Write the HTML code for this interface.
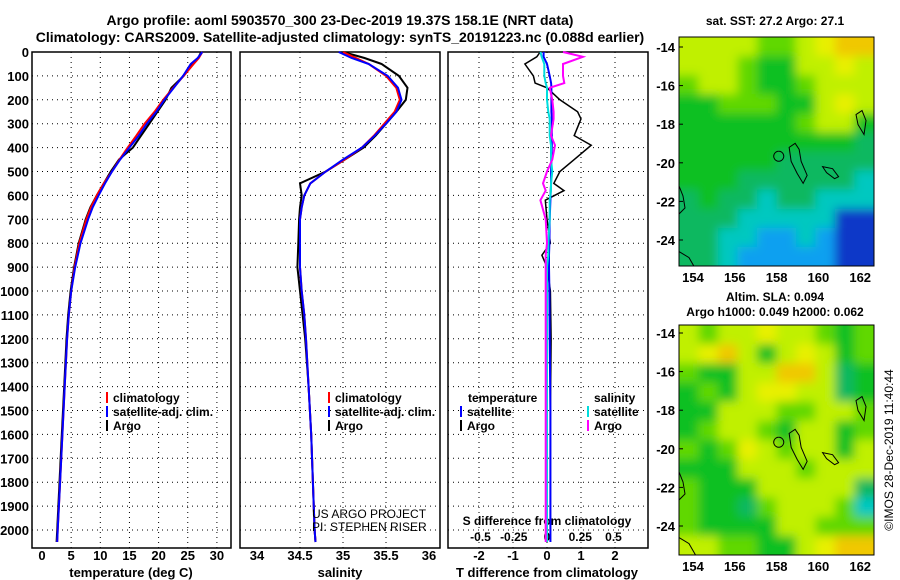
<!DOCTYPE html>
<html><head><meta charset="utf-8"><style>
body{margin:0;background:#fff;}
svg{display:block;font-family:"Liberation Sans",sans-serif;font-weight:bold;}
</style></head><body>
<svg id="c" width="900" height="580" viewBox="0 0 900 580" xmlns="http://www.w3.org/2000/svg">
<defs>
<filter id="blur" x="-10%" y="-10%" width="120%" height="120%"><feGaussianBlur stdDeviation="5"/></filter>
<clipPath id="clip1"><rect x="679" y="37" width="195" height="229"/></clipPath>
<clipPath id="clip2"><rect x="679" y="325" width="195" height="230"/></clipPath>
</defs>
<text x="340" y="25" font-size="14" text-anchor="middle">Argo profile: aoml 5903570_300 23-Dec-2019 19.37S 158.1E (NRT data)</text>
<text x="340" y="42" font-size="14" text-anchor="middle">Climatology: CARS2009. Satellite-adjusted climatology: synTS_20191223.nc (0.088d earlier)</text>
<g id="g"></g>
</svg>
<script>
const depths=[0,25,50,100,150,200,250,300,350,400,450,500,550,600,650,700,800,900,1000,1100,1200,1400,1600,1800,2000,2050];
const tempArgo=[27.3,26.8,25.8,24.3,22.2,21.2,19.8,18.4,17.0,15.6,13.2,11.8,10.6,9.4,8.3,7.5,6.3,5.5,4.9,4.5,4.2,3.8,3.4,3.0,2.6,2.5];
const tempClim=[27.5,26.9,26.0,24.3,22.5,20.8,19.3,17.6,16.2,14.7,13.3,12.0,10.6,9.4,8.4,7.6,6.4,5.6,5.0,4.6,4.3,3.9,3.5,3.1,2.7,2.6];
const tempSat=[27.5,26.7,25.5,24.2,22.6,21.0,19.6,18.0,16.6,15.0,13.4,12.0,10.8,9.7,8.7,7.9,6.6,5.7,5.0,4.6,4.3,3.9,3.5,3.1,2.7,2.6];
const salArgo=[35.0,35.25,35.45,35.65,35.75,35.73,35.62,35.5,35.38,35.24,35.02,34.8,34.5,34.52,34.5,34.49,34.48,34.47,34.5,34.53,34.56,34.6,34.63,34.65,34.67,34.68];
const salClim=[35.0,35.15,35.3,35.5,35.62,35.66,35.6,35.48,35.36,35.22,35.02,34.8,34.62,34.55,34.52,34.5,34.5,34.5,34.52,34.55,34.57,34.6,34.63,34.65,34.67,34.68];
const salSat=[34.95,35.1,35.3,35.52,35.64,35.68,35.62,35.5,35.37,35.22,35.0,34.8,34.62,34.55,34.52,34.5,34.5,34.5,34.52,34.55,34.57,34.6,34.63,34.65,34.67,34.68];
const diffDepths=[0,20,50,100,130,150,200,250,280,350,390,450,500,550,580,620,700,800,850,900,1000,1200,1500,1800,2050];
const tDiffArgo=[-0.2,-0.3,-0.65,-0.4,-0.35,0.0,0.38,0.9,1.0,0.8,1.3,0.8,0.38,0.2,0.5,-0.05,0.0,0.1,-0.15,0.0,0.1,0.12,0.1,0.1,0.1];
const tDiffSat=[-0.1,-0.1,0.0,0.08,0.12,0.13,0.13,0.13,0.14,0.14,0.14,0.13,0.12,0.12,0.11,0.1,0.08,0.07,0.06,0.06,0.07,0.08,0.1,0.1,0.1];
const sDiffSat=[-0.05,-0.04,-0.02,-0.02,-0.01,0.0,0.0,0.01,0.02,0.02,0.03,0.03,0.04,0.03,0.03,0.02,0.02,0.01,0.01,0.0,0.0,0.0,0.0,0.0,0.0];
const sDiffArgo=[0.12,0.27,0.12,0.12,0.13,0.02,0.04,0.05,0.05,0.03,0.06,0.04,0.0,-0.03,-0.01,-0.05,-0.01,0.0,-0.01,-0.01,-0.01,-0.01,-0.01,-0.01,-0.01];
const depthTicks=[0,100,200,300,400,500,600,700,800,900,1000,1100,1200,1300,1400,1500,1600,1700,1800,1900,2000];
const tempTicks=[0,5,10,15,20,25,30];
const salTicks=[34,34.5,35,35.5,36];
const tdTicks=[-2,-1,0,1,2];
const sdTicks=[-0.5,-0.25,0,0.25,0.5];
const sdTickLabels=["-0.5","-0.25","0","0.25","0.5"];
const latTicks=[-14,-16,-18,-20,-22,-24];
const lonTicks=[154,156,158,160,162];
const map1Grid=["6666556788","6665446676","5665445666","4455544676","4444445664","4444444443","4444433333","4443333332","3433233222","3332222200","3322112100","3321111100"];
const map2Grid=["6566766545","6786467645","5446688634","4546776634","4466655665","4566546645","5457656646","4446665666","5444666663","5443566652","5444466555","6655446788"];

const NS="http://www.w3.org/2000/svg",G=document.getElementById('g');
function mk(t,a,p){const e=document.createElementNS(NS,t);for(const k in a)e.setAttribute(k,a[k]);(p||G).appendChild(e);return e;}
const Y=d=>52+d*0.239;
const topY=52,botY=548;
function panel(x0,x1,name){
  const r=mk('rect',{x:x0,y:topY,width:x1-x0,height:botY-topY,fill:'none',stroke:'#000','stroke-width':1.5});
  
  
}
function hgrid(x0,x1){depthTicks.forEach(d=>{const l=mk('line',{x1:x0,x2:x1,y1:Y(d),y2:Y(d),stroke:'#000','stroke-dasharray':'1 4'});});}
function vgrid(xs){xs.forEach(x=>{const l=mk('line',{x1:x,x2:x,y1:topY,y2:botY,stroke:'#000','stroke-dasharray':'1 4'});});}
function line(xs,ds,fx,col,w,name){
  const pts=xs.map((v,i)=>fx(v).toFixed(1)+','+Y(ds[i]).toFixed(1)).join(' ');
  const p=mk('polyline',{points:pts,fill:'none',stroke:col,'stroke-width':w});
  
  
}
function txt(x,y,s,size,anchor,name,col){const t=mk('text',{x:x,y:y,'font-size':size,'text-anchor':anchor||'start',fill:col||'#000'});t.textContent=s;return t;}

// Panel 1 temperature
const XT=v=>42+v*5.83;
hgrid(32,231);vgrid(tempTicks.slice(1).map(XT));
panel(32,231,'temperature-panel');
depthTicks.forEach(d=>txt(29,Y(d)+5,String(d),13,'end','depth-tick-label'));
tempTicks.forEach(v=>txt(XT(v),560,String(v),13,'middle','temperature-tick-label'));
txt(131,577,'temperature (deg C)',13,'middle','x-axis-title-temperature');
line(tempArgo,depths,XT,'#000',2,'temperature-argo-line');
line(tempClim,depths,XT,'#f00',2,'temperature-climatology-line');
line(tempSat,depths,XT,'#00f',2,'temperature-satellite-line');
[['#f00','climatology',402],['#00f','satellite-adj. clim.',416],['#000','Argo',430]].forEach(a=>{mk('rect',{x:106,y:a[2]-10,width:2,height:11,fill:a[0]});txt(113,a[2],a[1],12,'start','temperature-legend-entry');});

// Panel 2 salinity
const XS=v=>257+(v-34)*86;
hgrid(240,440);vgrid(salTicks.slice(1,4).map(XS));
panel(240,440,'salinity-panel');
salTicks.forEach(v=>txt(XS(v),560,String(v),13,'middle','salinity-tick-label'));
txt(340,577,'salinity',13,'middle','x-axis-title-salinity');
line(salArgo,depths,XS,'#000',2,'salinity-argo-line');
line(salClim,depths,XS,'#f00',2,'salinity-climatology-line');
line(salSat,depths,XS,'#00f',2,'salinity-satellite-line');
[['#f00','climatology',402],['#00f','satellite-adj. clim.',416],['#000','Argo',430]].forEach(a=>{mk('rect',{x:328,y:a[2]-10,width:2,height:11,fill:a[0]});txt(335,a[2],a[1],12,'start','salinity-legend-entry');});
txt(312,518,'US ARGO PROJECT',12,'start','project-label').setAttribute('font-weight','normal');
txt(312,531,'PI: STEPHEN RISER',12,'start','pi-label').setAttribute('font-weight','normal');

// Panel 3 differences
const XD=v=>547+v*34, XSD=v=>547+v*133;
hgrid(448,648);vgrid(tdTicks.map(XD));
panel(448,648,'difference-panel');
tdTicks.forEach(v=>txt(XD(v),560,String(v),13,'middle','t-difference-tick-label'));
txt(547,577,'T difference from climatology',13,'middle','x-axis-title-t-difference');
sdTicks.forEach((v,i)=>txt(XSD(v),541,sdTickLabels[i],12,'middle','s-difference-tick-label'));
txt(547,525,'S difference from climatology',12,'middle','s-difference-axis-title');
line(tDiffArgo,diffDepths,XD,'#000',1.5,'t-diff-argo-line');
line(tDiffSat,diffDepths,XD,'#00f',2,'t-diff-satellite-line');
line(sDiffSat,diffDepths,XSD,'#0dd',2,'s-diff-satellite-line');
line(sDiffArgo,diffDepths,XSD,'#f0f',2,'s-diff-argo-line');
txt(468,402,'temperature',12,'start','diff-legend-temperature-heading');
txt(594,402,'salinity',12,'start','diff-legend-salinity-heading');
[['#00f','satellite',416,460],['#000','Argo',430,460]].forEach(a=>{mk('rect',{x:a[3],y:a[2]-10,width:2,height:11,fill:a[0]});txt(a[3]+7,a[2],a[1],12,'start','diff-legend-temperature-entry');});
[['#0dd','satellite',416,587],['#f0f','Argo',430,587]].forEach(a=>{mk('rect',{x:a[3],y:a[2]-10,width:2,height:11,fill:a[0]});txt(a[3]+7,a[2],a[1],12,'start','diff-legend-salinity-entry');});

// Maps
const pal=['#0838c8','#10a0f0','#00c8c0','#10b860','#10c020','#60d800','#c0f000','#e8f000','#f0c800'];
function map(x0,y0,w,h,grid,clip,latY0,name){
  const outer=mk('g',{'clip-path':`url(#${clip})`});
  
  
  const g=mk('g',{filter:'url(#blur)'},outer);
  const rows=grid.length,cols=grid[0].length,cw=w/cols,ch=h/rows,P=15;
  grid.forEach((row,r)=>{for(let c=0;c<cols;c++){
    let x=x0+c*cw,y=y0+r*ch,ww=cw+0.6,hh=ch+0.6;
    if(c===0){x-=P;ww+=P;} if(c===cols-1){ww+=P;}
    if(r===0){y-=P;hh+=P;} if(r===rows-1){hh+=P;}
    mk('rect',{x:x,y:y,width:ww,height:hh,fill:pal[+row[c]]},g);}});
  const LX=l=>693+(l-154)*20.9, LY=l=>latY0+(-14-l)*19.3;
  mk('path',{d:`M${LX(158.6)} ${LY(-19.2)} l6 -4 l4 6 l2 12 l6 14 l-4 8 l-6 -10 l-6 -12 z M${LX(160.2)} ${LY(-20.2)} l10 2 l6 8 l-4 2 l-8 -6 z M${LX(161.8)} ${LY(-17.5)} l6 -4 l4 10 l-2 14 l-6 -10 z M${LX(158.1)} ${LY(-19.4)} a5 5 0 1 0 0.1 0 M${x0} ${LY(-21.2)} l4 10 l2 12 l-6 6 M${x0} ${LY(-24.6)} l10 6 l8 14`,fill:'none',stroke:'#000','stroke-width':1},outer);
  mk('rect',{x:x0,y:y0,width:w,height:h,fill:'none',stroke:'#000','stroke-width':1});
  latTicks.forEach(l=>{txt(x0-4,LY(l)+5,String(l),13,'end','latitude-tick-label');mk('line',{x1:x0,x2:x0+4,y1:LY(l),y2:LY(l),stroke:'#000'});});
  lonTicks.forEach(l=>txt(LX(l),y0+h+16,String(l),13,'middle','longitude-tick-label'));
}
map(679,37,195,229,map1Grid,'clip1',47,'sst-map');
txt(775,25,'sat. SST: 27.2 Argo: 27.1',12,'middle','sst-map-title');
map(679,325,195,230,map2Grid,'clip2',333,'sla-map');
txt(775,301,'Altim. SLA: 0.094',12,'middle','sla-map-title');
txt(775,316,'Argo h1000: 0.049 h2000: 0.062',12,'middle','sla-map-subtitle');
const cr=txt(0,0,'©IMOS 28-Dec-2019 11:40:44',12,'middle','copyright-timestamp');
cr.setAttribute('font-weight','normal');
cr.setAttribute('transform','translate(893,450) rotate(-90)');
</script>
</body></html>
